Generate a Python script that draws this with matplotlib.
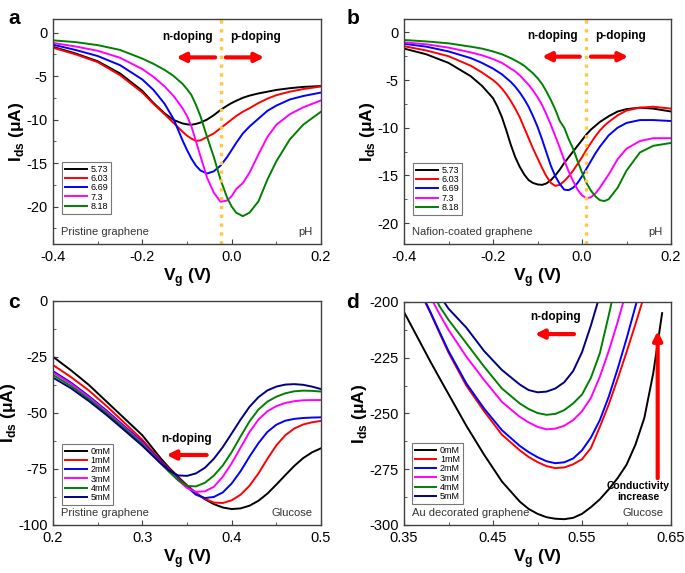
import numpy as np
import matplotlib
matplotlib.use('Agg')
import matplotlib.pyplot as plt
from matplotlib.ticker import MultipleLocator

plt.rcParams['font.family'] = ['Liberation Sans', 'DejaVu Sans']
plt.rcParams['mathtext.fontset'] = 'custom'
plt.rcParams['mathtext.rm'] = 'Liberation Sans'
plt.rcParams['mathtext.bf'] = 'Liberation Sans:bold'
plt.rcParams['axes.unicode_minus'] = False


# --------------------------------- #
# data (V, uA)

ph_labels = ['5.73', '6.03', '6.69', '7.3', '8.18']
glucose_labels = ['0mM', '1mM', '2mM', '3mM', '4mM', '5mM']

xa = [-0.4, -0.35, -0.3, -0.25, -0.2, -0.175, -0.15, -0.13, -0.11, -0.1, -0.09, -0.08, -0.07,
      -0.055, -0.04, -0.025, -0.01, 0.0, 0.01, 0.025, 0.04, 0.06, 0.08, 0.1, 0.13, 0.16, 0.2]
a_573 = [-1.65, -2.4, -3.3, -4.7, -6.7, -8.1, -9.3, -10.05, -10.45, -10.55, -10.6, -10.5, -10.35,
         -10.0, -9.5, -8.9, -8.4, -8.1, -7.85, -7.5, -7.25, -7.0, -6.8, -6.6, -6.4, -6.25, -6.15]
a_603 = [-1.75, -2.5, -3.4, -4.9, -6.9, -8.2, -9.4, -10.4, -11.4, -11.85, -12.2, -12.45, -12.4,
         -12.0, -11.6, -11.0, -10.4, -10.0, -9.6, -9.1, -8.7, -8.1, -7.6, -7.2, -6.8, -6.5, -6.2]
a_669 = [-1.4, -2.0, -2.7, -3.75, -5.4, -6.6, -8.2, -9.95, -12.4, -13.5, -14.5, -15.3, -15.85,
         -16.2, -15.95, -15.3, -14.3, -13.5, -12.7, -11.6, -10.8, -9.9, -9.0, -8.4, -7.7, -7.3, -6.9]
a_730 = [-1.2, -1.6, -2.1, -2.9, -4.2, -5.1, -6.2, -7.3, -8.7, -9.6, -10.8, -12.5, -14.2,
         -16.7, -18.4, -19.45, -19.3, -18.8, -18.0, -17.3, -16.1, -14.0, -12.0, -10.6, -9.4, -8.6, -7.8]
a_818 = [-0.9, -1.1, -1.45, -2.0, -3.0, -3.6, -4.3, -5.0, -5.9, -6.5, -7.2, -8.3, -9.6,
         -12.0, -14.3, -16.9, -19.0, -20.0, -20.7, -21.1, -20.7, -19.4, -16.9, -14.8, -12.3, -10.6, -9.1]

xb = [-0.4, -0.35, -0.3, -0.25, -0.225, -0.2, -0.19, -0.18, -0.17, -0.16, -0.15, -0.14, -0.13,
      -0.12, -0.11, -0.1, -0.09, -0.08, -0.07, -0.06, -0.05, -0.04, -0.03, -0.02, -0.01, 0.0,
      0.01, 0.02, 0.03, 0.04, 0.05, 0.06, 0.08, 0.1, 0.13, 0.16, 0.2]
b_573 = [-1.7, -2.3, -3.2, -4.6, -5.6, -6.9, -7.8, -8.9, -10.3, -11.8, -13.1, -14.1, -14.9,
         -15.5, -15.8, -15.95, -16.0, -15.85, -15.5, -15.0, -14.4, -13.7, -13.1, -12.5, -11.9, -11.3,
         -10.7, -10.2, -9.8, -9.4, -9.1, -8.8, -8.3, -8.05, -7.9, -8.0, -8.3]
b_603 = [-1.45, -1.9, -2.5, -3.5, -4.2, -5.0, -5.4, -5.9, -6.5, -7.2, -8.0, -8.9, -10.0,
         -11.1, -12.2, -13.2, -14.2, -15.1, -15.8, -16.1, -16.0, -15.6, -15.1, -14.5, -13.8, -13.1,
         -12.3, -11.6, -10.9, -10.3, -9.8, -9.4, -8.7, -8.2, -7.9, -7.8, -8.0]
b_669 = [-1.2, -1.5, -2.0, -2.7, -3.2, -3.8, -4.1, -4.4, -4.8, -5.2, -5.7, -6.3, -7.0,
         -7.8, -8.8, -9.9, -11.2, -12.6, -14.0, -15.1, -15.9, -16.5, -16.55, -16.3, -15.8, -15.1,
         -14.3, -13.5, -12.7, -12.0, -11.4, -10.8, -10.0, -9.5, -9.2, -9.2, -9.3]
b_730 = [-1.05, -1.25, -1.6, -2.1, -2.4, -2.8, -3.0, -3.2, -3.5, -3.8, -4.1, -4.5, -5.0,
         -5.5, -6.1, -6.8, -7.6, -8.6, -9.7, -10.9, -12.1, -13.4, -14.6, -15.6, -16.5, -17.1,
         -17.4, -17.3, -16.9, -16.3, -15.6, -14.9, -13.3, -12.2, -11.4, -11.1, -11.1]
b_818 = [-0.8, -0.95, -1.15, -1.5, -1.7, -2.0, -2.15, -2.3, -2.5, -2.7, -2.95, -3.2, -3.5,
         -3.9, -4.3, -4.8, -5.4, -6.2, -7.1, -8.1, -9.3, -10.0, -11.2, -12.2, -13.5, -14.7,
         -15.8, -16.6, -17.2, -17.6, -17.7, -17.5, -16.3, -14.5, -12.6, -11.9, -11.6]

xc = [0.2, 0.22, 0.24, 0.26, 0.28, 0.3, 0.32, 0.33, 0.34, 0.35, 0.36, 0.37, 0.38,
      0.39, 0.4, 0.41, 0.42, 0.43, 0.44, 0.45, 0.46, 0.47, 0.48, 0.49, 0.5]
c_0 = [-25, -31, -37.5, -45, -52.5, -60, -70, -74.5, -78.5, -82.3, -85.7, -88.5, -90.7,
       -92.2, -92.9, -92.6, -91.4, -89.2, -86, -82, -77.8, -73.7, -70.2, -67.6, -65.8]
c_1 = [-28.7, -34, -40, -47, -54.5, -62, -71, -75, -79, -82.6, -85.8, -88.3, -90,
       -90.2, -89, -86.5, -82.5, -77, -70.5, -64.5, -60, -57, -55.2, -54.2, -53.6]
c_2 = [-31.4, -36.5, -42.5, -49, -56, -63, -71.5, -75.5, -79.5, -83, -86.5, -88, -87.5,
       -85.5, -81.5, -76, -69.5, -63.5, -58.5, -55.3, -53.5, -52.7, -52.3, -52.1, -52]
c_3 = [-32, -37, -43, -49.5, -56.5, -63.5, -72, -76, -80, -83.5, -85.2, -85, -83,
       -78.5, -72.5, -65.5, -58.5, -53, -49.3, -47, -45.6, -44.8, -44.4, -44.3, -44.3]
c_4 = [-33.1, -38, -43.8, -50.2, -57, -64, -72.3, -76.3, -80, -82.6, -82.8, -81.2, -78,
       -73.5, -67.5, -60.5, -53.8, -48.5, -45, -42.8, -41.3, -40.4, -40.1, -40.2, -40.5]
c_5 = [-34.3, -39, -44.7, -51, -57.8, -64.7, -72.3, -75.7, -77.9, -78.1, -77, -74.5, -70.5,
       -65.3, -59.2, -53, -47.3, -43, -40, -38.3, -37.4, -37.2, -37.5, -38.3, -39.4]

xd = [0.35, 0.36, 0.37, 0.38, 0.39, 0.40, 0.42, 0.44, 0.46, 0.48, 0.49, 0.50, 0.51,
      0.52, 0.53, 0.54, 0.55, 0.56, 0.57, 0.58, 0.59, 0.60, 0.61, 0.62, 0.63, 0.64]
d_0 = [-204.5, -212, -219.5, -227, -234.2, -241.3, -255.5, -268.5, -280.5, -289.5, -292.8, -295, -296.5,
       -297.2, -297.4, -296.8, -295, -292, -288.5, -284, -279, -273, -264, -252, -232, -205]
d_1 = [-180, -188, -197, -205.2, -214, -222.7, -237.5, -249, -259.5, -266.5, -269.5, -271.8, -273.6,
       -274.5, -274.2, -272.8, -270.5, -265.5, -256, -246, -234.5, -222.5, -210, -197, -183, -169]
d_2 = [-180, -188, -196.5, -204.8, -213.5, -222, -236.5, -247.8, -257.5, -264.5, -267.3, -269.6, -271.4,
       -272.3, -271.9, -270.2, -266.5, -260.8, -253, -242.5, -230, -216.5, -202, -188, -174, -160]
d_3 = [-175, -182, -190, -198, -205.5, -212.5, -224.5, -235, -244.8, -251.5, -254, -256, -257.1,
       -256.8, -255.5, -253, -249, -243, -233.5, -222, -209, -195, -181, -167, -153, -140]
d_4 = [-170, -178, -186, -194, -202, -208, -218.5, -229, -238.8, -245.5, -248, -249.8, -250.6,
       -250.2, -248.5, -245.5, -241.5, -234, -223, -206, -188, -170, -155, -140, -125, -110]
d_5 = [-165, -173, -181, -189, -197, -203, -211.5, -222, -230.5, -237, -239.5, -240.5, -240.2,
       -238.8, -236, -231, -222.5, -210.5, -197, -182, -167, -152, -137, -122, -107, -92]


# --------------------------------- #

ph_colors = ['black', '#ff0000', '#0000ff', '#ff00ff', '#008000']
glu_colors = ['black', '#ff0000', '#0000ff', '#ff00ff', '#008000', '#000080']
spine_col = '#404040'
dot_col = '#ffc83d'

fig = plt.figure(figsize=(6.85, 5.73), dpi=100)
ax_a = fig.add_axes([0.0774, 0.5742, 0.3912, 0.3926])
ax_b = fig.add_axes([0.5898, 0.5742, 0.3898, 0.3926])
ax_c = fig.add_axes([0.0774, 0.0838, 0.3912, 0.3914])
ax_d = fig.add_axes([0.5898, 0.0838, 0.3898, 0.3892])


def style(ax, xmaj, xmin, ymaj, ymin):
    for s in ax.spines.values():
        s.set_color(spine_col)
        s.set_linewidth(1.0)
    ax.xaxis.set_major_locator(MultipleLocator(xmaj))
    ax.xaxis.set_minor_locator(MultipleLocator(xmin))
    ax.yaxis.set_major_locator(MultipleLocator(ymaj))
    ax.yaxis.set_minor_locator(MultipleLocator(ymin))
    ax.tick_params(which='both', direction='in', color=spine_col, labelsize=10.5,
                   top=False, right=False, pad=4)
    ax.tick_params(which='major', length=3.5)
    ax.tick_params(which='minor', length=2)
    ax.set_xlabel('V$_\\mathbf{g}$ (V)', fontsize=12.5, fontweight='bold', labelpad=2)
    ax.set_ylabel('I$_\\mathbf{ds}$ (μA)', fontsize=12.5, fontweight='bold', labelpad=0)


def legend(ax, anchor):
    leg = ax.legend(loc='lower left', bbox_to_anchor=anchor, fontsize=6.5, frameon=True,
                    fancybox=False, edgecolor='#555555', handlelength=2.4, handletextpad=0.4,
                    labelspacing=0.03, borderpad=0.3, borderaxespad=0)
    leg.get_frame().set_linewidth(0.8)


def red_arrow(ax, tail, tip):
    ax.annotate('', xy=tip, xytext=tail,
                arrowprops=dict(arrowstyle='-|>', color='#ff0000', lw=3,
                                mutation_scale=13, shrinkA=0, shrinkB=0))


# --------------------------------- #
# a : pristine graphene, pH

for y, lab, col in zip([a_573, a_603, a_669, a_730, a_818], ph_labels, ph_colors):
    ax_a.plot(xa, y, color=col, lw=1.4, label=lab)
ax_a.axvline(-0.0245, color=dot_col, ls=':', lw=2.4)
ax_a.set_xlim(-0.4, 0.2)
ax_a.set_ylim(-24.3, 1.55)
style(ax_a, 0.2, 0.1, 5, 2.5)
legend(ax_a, (0.035, 0.135))
red_arrow(ax_a, (-0.037, -2.86), (-0.124, -2.86))
red_arrow(ax_a, (-0.013, -2.86), (0.073, -2.86))
ax_a.text(-0.099, -0.5, 'n-doping', fontsize=8.5, fontweight='bold', ha='center', va='center')
ax_a.text(0.054, -0.5, 'p-doping', fontsize=8.5, fontweight='bold', ha='center', va='center')
ax_a.text(0.03, 0.04, 'Pristine graphene', transform=ax_a.transAxes, fontsize=8, color='#333333')
ax_a.text(0.97, 0.04, 'pH', transform=ax_a.transAxes, fontsize=8, ha='right', color='#333333')

# b : nafion-coated graphene, pH

for y, lab, col in zip([b_573, b_603, b_669, b_730, b_818], ph_labels, ph_colors):
    ax_b.plot(xb, y, color=col, lw=1.4, label=lab)
ax_b.axvline(0.008, color=dot_col, ls=':', lw=2.4)
ax_b.set_xlim(-0.4, 0.2)
ax_b.set_ylim(-22.2, 1.4)
style(ax_b, 0.2, 0.1, 5, 2.5)
legend(ax_b, (0.035, 0.13))
red_arrow(ax_b, (-0.005, -2.55), (-0.09, -2.55))
red_arrow(ax_b, (0.02, -2.55), (0.104, -2.55))
ax_b.text(-0.067, -0.4, 'n-doping', fontsize=8.5, fontweight='bold', ha='center', va='center')
ax_b.text(0.087, -0.4, 'p-doping', fontsize=8.5, fontweight='bold', ha='center', va='center')
ax_b.text(0.03, 0.04, 'Nafion-coated graphene', transform=ax_b.transAxes, fontsize=8, color='#333333')
ax_b.text(0.97, 0.04, 'pH', transform=ax_b.transAxes, fontsize=8, ha='right', color='#333333')

# c : pristine graphene, glucose

for y, lab, col in zip([c_0, c_1, c_2, c_3, c_4, c_5], glucose_labels, glu_colors):
    ax_c.plot(xc, y, color=col, lw=1.4, label=lab)
ax_c.set_xlim(0.2, 0.5)
ax_c.set_ylim(-100, 0)
style(ax_c, 0.1, 0.05, 25, 12.5)
legend(ax_c, (0.035, 0.09))
red_arrow(ax_c, (0.372, -68.8), (0.327, -68.8))
ax_c.text(0.35, -61.7, 'n-doping', fontsize=8.5, fontweight='bold', ha='center', va='center')
ax_c.text(0.03, 0.04, 'Pristine graphene', transform=ax_c.transAxes, fontsize=8, color='#333333')
ax_c.text(0.97, 0.04, 'Glucose', transform=ax_c.transAxes, fontsize=8, ha='right', color='#333333')

# d : Au decorated graphene, glucose

for y, lab, col in zip([d_0, d_1, d_2, d_3, d_4, d_5], glucose_labels, glu_colors):
    ax_d.plot(xd, y, color=col, lw=1.4, label=lab)
ax_d.set_xlim(0.35, 0.65)
ax_d.set_ylim(-300, -200)
style(ax_d, 0.1, 0.05, 25, 12.5)
ax_d.set_xticks([0.35, 0.45, 0.55, 0.65])
ax_d.set_xticks([0.4, 0.5, 0.6], minor=True)
legend(ax_d, (0.03, 0.095))
red_arrow(ax_d, (0.541, -214.4), (0.497, -214.4))
ax_d.text(0.52, -206.9, 'n-doping', fontsize=8.5, fontweight='bold', ha='center', va='center')
red_arrow(ax_d, (0.635, -279), (0.635, -213))
ax_d.text(0.613, -285, 'Conductivity\nincrease', fontsize=7.5, fontweight='bold',
          ha='center', va='center', linespacing=1.1)
ax_d.text(0.03, 0.04, 'Au decorated graphene', transform=ax_d.transAxes, fontsize=8, color='#333333')
ax_d.text(0.97, 0.04, 'Glucose', transform=ax_d.transAxes, fontsize=8, ha='right', color='#333333')

# panel letters
for lab, x, y in [('a', 0.012, 0.985), ('b', 0.506, 0.985), ('c', 0.012, 0.488), ('d', 0.506, 0.488)]:
    fig.text(x, y, lab, fontsize=15, fontweight='bold', va='top')

fig.savefig('out.png', dpi=100)
